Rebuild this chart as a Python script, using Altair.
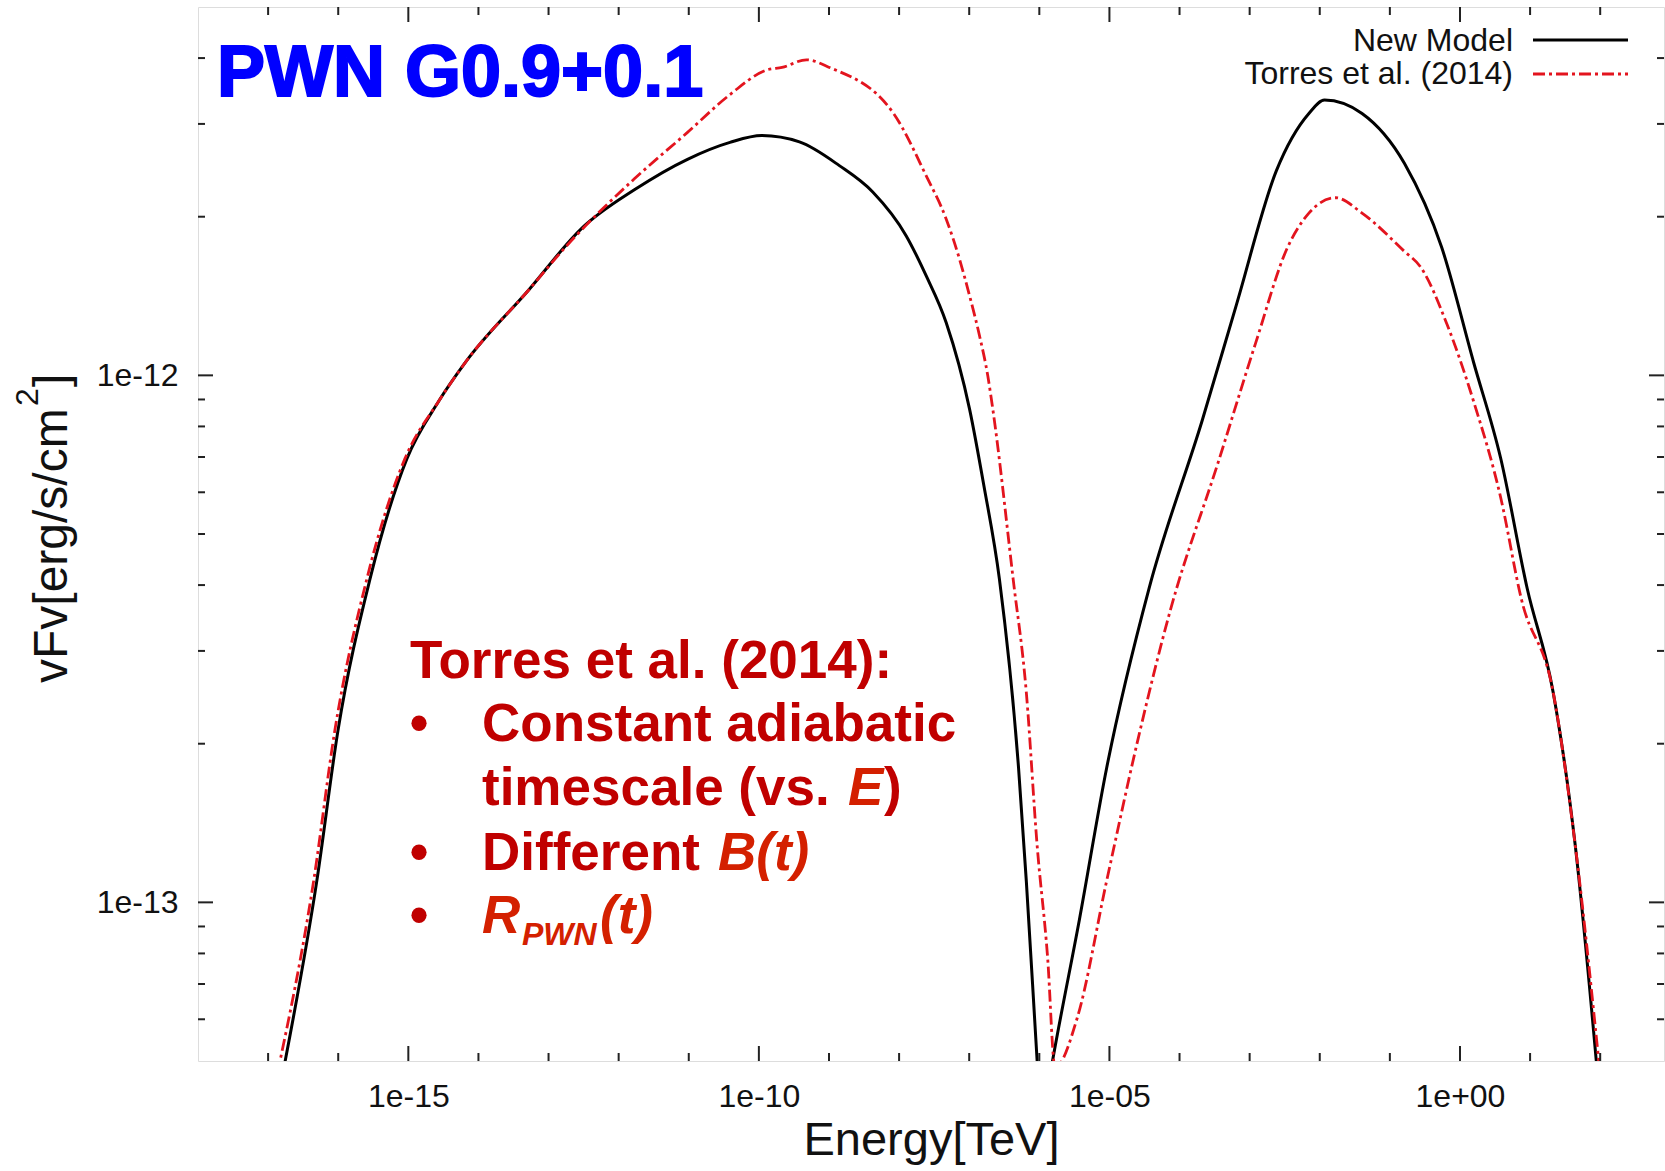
import altair as alt
import pandas as pd

# ---------------- data ----------------
new_model_E = [1.622e-17, 4.94e-17, 9.93e-17, 2.83e-16, 9.55e-16, 2.71e-15, 6.47e-15, 5.21e-14,
               2.97e-13, 1.675e-12, 9.59e-12, 3.87e-11, 1.099e-10, 3.79e-10, 1.406e-9, 4.21e-9,
               1.259e-8, 2.43e-8, 4.69e-8, 1.012e-7, 1.618e-7, 2.70e-7, 5.05e-7, 6.53e-7,
               9.27e-7, 1.064e-6, 1.563e-6, 3.74e-6, 9.10e-6, 3.67e-5, 2.11e-4, 6.47e-4,
               2.40e-3, 7.00e-3, 1.17e-2, 4.01e-2, 0.1618, 0.548, 1.563, 3.80, 9.10, 21.4,
               43.9, 92.7]
new_model_F = [4.74e-14, 1.096e-13, 2.12e-13, 4.10e-13, 6.95e-13, 8.93e-13, 1.057e-12, 1.452e-12,
               1.901e-12, 2.249e-12, 2.570e-12, 2.767e-12, 2.851e-12, 2.773e-12, 2.50e-12, 2.228e-12,
               1.841e-12, 1.546e-12, 1.260e-12, 8.63e-13, 6.18e-13, 4.10e-13, 1.803e-13, 1.096e-13,
               5.05e-14, 3.76e-14, 5.05e-14, 9.29e-14, 1.795e-13, 3.94e-13, 8.22e-13, 1.361e-12,
               2.443e-12, 3.14e-12, 3.33e-12, 3.14e-12, 2.523e-12, 1.750e-12, 1.059e-12, 6.97e-13,
               3.94e-13, 2.50e-13, 1.288e-13, 4.63e-14]

torres_E = [1.358e-17, 4.45e-17, 8.95e-17, 2.55e-16, 8.95e-16, 2.71e-15, 6.47e-15, 5.21e-14,
            1.734e-13, 1.675e-12, 9.59e-12, 3.87e-11, 1.312e-10, 2.14e-10, 4.78e-10, 1.014e-9,
            8.34e-9, 2.43e-8, 4.69e-8, 7.26e-8, 1.012e-7, 1.403e-7, 1.841e-7, 2.17e-7,
            4.24e-7, 6.53e-7, 9.27e-7, 1.312e-6, 1.675e-6, 3.48e-6, 9.10e-6, 2.58e-5,
            7.38e-5, 3.56e-4, 1.216e-3, 3.48e-3, 7.00e-3, 1.675e-2, 4.01e-2, 0.1618, 0.273,
            0.653, 1.563, 3.80, 7.52, 21.4, 43.9, 101.2]
torres_F = [4.74e-14, 1.096e-13, 2.12e-13, 4.10e-13, 6.95e-13, 8.93e-13, 1.057e-12, 1.452e-12,
            1.750e-12, 2.360e-12, 2.891e-12, 3.41e-12, 3.80e-12, 3.84e-12, 3.97e-12, 3.84e-12,
            3.14e-12, 2.393e-12, 1.981e-12, 1.663e-12, 1.416e-12, 1.189e-12, 9.98e-13, 8.63e-13,
            4.10e-13, 2.50e-13, 1.291e-13, 7.87e-14, 4.86e-14, 6.04e-14, 1.096e-13, 2.05e-13,
            3.58e-13, 6.84e-13, 1.151e-12, 1.750e-12, 2.032e-12, 2.173e-12, 2.032e-12, 1.718e-12,
            1.607e-12, 1.250e-12, 8.93e-13, 5.87e-13, 3.76e-13, 2.50e-13, 1.288e-13, 4.63e-14]

x_major_ticks = [1e-15, 1e-10, 1e-5, 1.0]
x_minor_ticks = [1e-17, 1e-16, 1e-14, 1e-13, 1e-12, 1e-11, 1e-9, 1e-8, 1e-7, 1e-6,
                 1e-4, 1e-3, 1e-2, 1e-1, 1e1, 1e2]
y_major_ticks = [1e-13, 1e-12]
y_minor_ticks = [6e-14, 7e-14, 8e-14, 9e-14, 2e-13, 3e-13, 4e-13, 5e-13, 6e-13, 7e-13,
                 8e-13, 9e-13, 2e-12, 3e-12, 4e-12]

x_domain = [1e-18, 8.13e2]
y_domain = [5e-14, 5e-12]

series_names = ["New Model", "Torres et al. (2014)"]

# ---------------- layout ----------------
W, H = 1466, 1054
FONT = "Liberation Sans"

black_df = pd.DataFrame({"E": new_model_E, "F": new_model_F})
red_df = pd.DataFrame({"E": torres_E, "F": torres_F})

xs = alt.Scale(type="log", domain=x_domain, nice=False)
ys = alt.Scale(type="log", domain=y_domain, nice=False)

lbl = ("'1e' + (log(datum.value)/LN10 < -0.5 ? '-' : '+') + "
       "(abs(round(log(datum.value)/LN10)) < 10 ? '0' : '') + abs(round(log(datum.value)/LN10))")

x_axis = alt.Axis(values=x_major_ticks, labelExpr=lbl, ticks=False, tickSize=0, domain=False,
                  grid=False, labelFontSize=32, labelPadding=20, labelFont=FONT, labelColor="#111",
                  titleFontSize=47, titleFont=FONT, titleFontWeight="normal", titleColor="#111",
                  titleY=93, titleBaseline="alphabetic")
y_axis = alt.Axis(values=y_major_ticks, labelExpr=lbl, ticks=False, tickSize=0, domain=False,
                  grid=False, labelFontSize=32, labelPadding=20, labelFont=FONT, labelColor="#111")


def X():
    return alt.X("E:Q", scale=xs, axis=x_axis, title="Energy[TeV]")


def Y():
    return alt.Y("F:Q", scale=ys, axis=y_axis, title=None)


RED = "#e3141e"
DASH = [12, 4, 3, 4]

black_line = alt.Chart(black_df).mark_line(
    color="black", strokeWidth=3, interpolate="monotone", clip=True
).encode(x=X(), y=Y())

red_line = alt.Chart(red_df).mark_line(
    color=RED, strokeWidth=2.8, strokeDash=DASH, interpolate="monotone", clip=True
).encode(x=X(), y=Y())

# inward ticks on all four sides
xmaj = pd.DataFrame({"E": x_major_ticks})
xmin = pd.DataFrame({"E": x_minor_ticks})
ymaj = pd.DataFrame({"F": y_major_ticks})
ymin = pd.DataFrame({"F": y_minor_ticks})
TC = "#222"
tick_layers = [
    alt.Chart(xmaj).mark_rule(color=TC, strokeWidth=2).encode(x=X(), y=alt.value(H), y2=alt.value(H - 15)),
    alt.Chart(xmaj).mark_rule(color=TC, strokeWidth=2).encode(x=X(), y=alt.value(0), y2=alt.value(15)),
    alt.Chart(xmin).mark_rule(color=TC, strokeWidth=2).encode(x=X(), y=alt.value(H), y2=alt.value(H - 8)),
    alt.Chart(xmin).mark_rule(color=TC, strokeWidth=2).encode(x=X(), y=alt.value(0), y2=alt.value(8)),
    alt.Chart(ymaj).mark_rule(color=TC, strokeWidth=2).encode(y=Y(), x=alt.value(0), x2=alt.value(15)),
    alt.Chart(ymaj).mark_rule(color=TC, strokeWidth=2).encode(y=Y(), x=alt.value(W), x2=alt.value(W - 15)),
    alt.Chart(ymin).mark_rule(color=TC, strokeWidth=2).encode(y=Y(), x=alt.value(0), x2=alt.value(7)),
    alt.Chart(ymin).mark_rule(color=TC, strokeWidth=2).encode(y=Y(), x=alt.value(W), x2=alt.value(W - 7)),
]


def rtxt(s, x, y, size):
    return alt.Chart().mark_text(text=s, align="left", baseline="alphabetic", angle=270,
                                 fontSize=size, font=FONT, color="#111").encode(
        x=alt.value(x), y=alt.value(y))


# y-axis title with a real superscript
ytitle_layers = [
    rtxt("vFv[erg/s/cm", -131, 676, 48),
    rtxt("2", -160, 399, 32),
    rtxt("]", -131, 380, 48),
]

# legend (drawn by hand, top right)
legend_layers = [
    alt.Chart().mark_text(text=series_names[0], align="right", baseline="alphabetic",
                          fontSize=32, font=FONT, color="#111").encode(x=alt.value(1315), y=alt.value(44)),
    alt.Chart().mark_text(text=series_names[1], align="right", baseline="alphabetic",
                          fontSize=32, font=FONT, color="#111").encode(x=alt.value(1315), y=alt.value(77)),
    alt.Chart().mark_rule(color="black", strokeWidth=3).encode(
        x=alt.value(1335), x2=alt.value(1430), y=alt.value(33)),
    alt.Chart().mark_rule(color=RED, strokeWidth=3, strokeDash=DASH).encode(
        x=alt.value(1335), x2=alt.value(1430), y=alt.value(67)),
]

# annotations
DR = "#c00000"
IR = "#d42000"


def txt(s, x, y, size=53, color=DR, style="normal", weight="bold", align="left", sw=0):
    kw = {}
    if sw:
        kw = {"stroke": color, "strokeWidth": sw}
    return alt.Chart().mark_text(text=s, align=align, baseline="alphabetic", fontSize=size,
                                 font=FONT, fontWeight=weight, fontStyle=style,
                                 color=color, **kw).encode(x=alt.value(x), y=alt.value(y))


annot_layers = [
    txt("PWN G0.9+0.1", 19, 89, size=72, color="#0000ff", sw=2),
    txt("Torres et al. (2014):", 212, 671),
    txt("•", 221, 734, align="center"),
    txt("Constant adiabatic", 284, 734),
    txt("timescale (vs. ", 284, 798),
    txt("E", 650, 798, color=IR, style="italic"),
    txt(")", 686, 798),
    txt("•", 221, 863, align="center"),
    txt("Different ", 284, 863),
    txt("B(t)", 520, 863, color=IR, style="italic"),
    txt("•", 221, 926, align="center"),
    txt("R", 284, 926, color=IR, style="italic"),
    txt("PWN", 324, 938, size=32, color=IR, style="italic"),
    txt("(t)", 402, 926, color=IR, style="italic"),
]

chart = alt.layer(
    black_line, red_line, *tick_layers, *ytitle_layers, *legend_layers, *annot_layers
).properties(
    width=W, height=H,
    padding={"left": 198, "top": 7, "right": 1, "bottom": 110},
    autosize="none",
).configure_view(
    stroke="#222", strokeWidth=2.5
).configure(background="white")

chart.save("out.html", embed_options={"renderer": "svg", "actions": False})
